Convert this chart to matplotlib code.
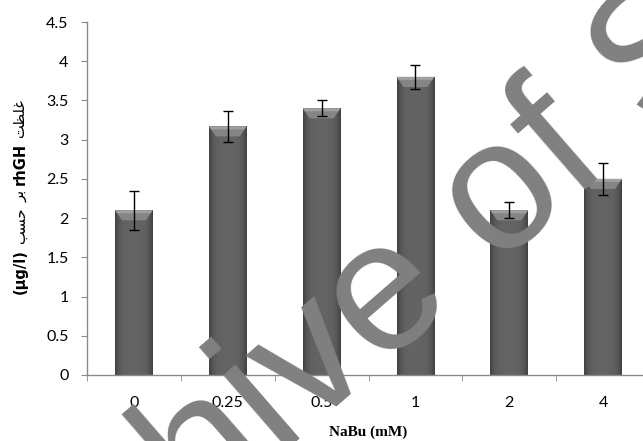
import numpy as np
import matplotlib
matplotlib.use("Agg")
import matplotlib.pyplot as plt
from matplotlib.patches import Polygon

# ---- data ----
categories = ['0', '0.25', '0.5', '1', '2', '4']
values = [2.1, 3.17, 3.4, 3.8, 2.1, 2.5]
errors = [0.25, 0.2, 0.1, 0.15, 0.1, 0.2]
yticks = [0, 0.5, 1, 1.5, 2, 2.5, 3, 3.5, 4, 4.5]
ytick_labels = ['0', '0.5', '1', '1.5', '2', '2.5', '3', '3.5', '4', '4.5']
xlabel = 'NaBu (mM)'
# y label pieces, bottom to top (Persian written with presentation forms, visual order)
ylabel_pieces = [('(\u00b5g/l)', 'bold'), ('\uFE90\uFEB4\uFEA3', 'normal'),
                 ('\uFEAE\uFE91', 'normal'), ('rhGH', 'bold'),
                 ('\uFE96\uFEC8\uFEE0\uFECF', 'normal')]
watermark = 'Archive of SID'

W, H = 643, 441
fig = plt.figure(figsize=(W / 100, H / 100), dpi=100)
ax = fig.add_axes([87 / W, 1 - 375 / H, (650 - 87) / W, (375 - 22) / H])

x = np.arange(len(categories))
bars = ax.bar(x, values, width=0.4, color='#5a5a5a', edgecolor='none', zorder=2)

# shading of bars (darker at edges, light bevel at top)
for b in bars:
    bx, bw, bh = b.get_x(), b.get_width(), b.get_height()
    nx = 40
    ny = max(int(bh * 78), 2)
    u = np.linspace(-1, 1, nx)
    horiz = 0.39 - 0.13 * u ** 4
    img = np.tile(horiz, (ny, 1))
    rgb = np.dstack([img, img, img])
    im = ax.imshow(rgb, extent=[bx, bx + bw, 0, bh], aspect='auto',
                   origin='upper', zorder=2, interpolation='bilinear')
    im.set_clip_path(b)
    bev = 10 / 78.0
    inset = bw * 0.18
    poly = Polygon([[bx, bh], [bx + bw, bh], [bx + bw - inset, bh - bev],
                    [bx + inset, bh - bev]], closed=True,
                   facecolor='#858585', edgecolor='none', zorder=2.5)
    ax.add_patch(poly)
    top = Polygon([[bx, bh], [bx + bw, bh], [bx + bw - inset * 0.3, bh - bev * 0.3],
                   [bx + inset * 0.3, bh - bev * 0.3]], closed=True,
                  facecolor='#a0a0a0', edgecolor='none', zorder=2.6)
    ax.add_patch(top)

ax.errorbar(x, values, yerr=errors, fmt='none', ecolor='black', elinewidth=1,
            capsize=3.8, capthick=1, zorder=3)

ax.set_xlim(-0.5, -0.5 + (650 - 87) / 94.0)
ax.set_ylim(0, 4.5)

for s in ['top', 'right']:
    ax.spines[s].set_visible(False)
for s in ['left', 'bottom']:
    ax.spines[s].set_color('#8a8a8a')
    ax.spines[s].set_linewidth(1)

tick_font = 'Lato'
ax.set_yticks(yticks)
ax.set_yticklabels(ytick_labels, fontfamily=tick_font, fontsize=11.5)
ax.tick_params(axis='y', direction='out', length=4.3, color='#8a8a8a', pad=9)
ax.set_xticks(x)
ax.set_xticklabels(categories, fontfamily=tick_font, fontsize=11.5)
ax.tick_params(axis='x', which='major', length=0, pad=15)
ax.set_xticks(np.arange(-0.5, 6, 1), minor=True)
ax.tick_params(axis='x', which='minor', direction='out', length=4.3, color='#8a8a8a')

fig.text((87 + 650) / 2 / W, 1 - 432 / H, xlabel, ha='center', va='center',
         fontfamily='Liberation Serif', fontweight='bold', fontsize=11)

# y label: stack pieces vertically
fig.canvas.draw()
renderer = fig.canvas.get_renderer()
xl = 20 / W
space_px = 5
texts = []
for s, wgt in ylabel_pieces:
    t = fig.text(xl, 0, s, rotation=90, ha='center', va='bottom',
                 fontfamily='DejaVu Sans', fontweight=wgt, fontsize=10.5)
    texts.append(t)
heights = [t.get_window_extent(renderer).height for t in texts]
total = sum(heights) + space_px * (len(texts) - 1)
center_px = H - (88 + 305) / 2
ycur = center_px - total / 2
for t, h in zip(texts, heights):
    t.set_position((xl, ycur / H))
    ycur += h + space_px

# watermark
em = 185
ang = 41
theta = np.deg2rad(ang)
v_off = 2.528 * em
sx = 345 - v_off * np.cos(theta)
sy = 400 + v_off * np.sin(theta)
fig.text(sx / W, 1 - sy / H, watermark, rotation=ang, rotation_mode='anchor',
         ha='left', va='baseline', fontfamily='Liberation Sans',
         fontsize=em * 72 / 100, color='#808080', zorder=10)

fig.savefig('out.png', dpi=100)
